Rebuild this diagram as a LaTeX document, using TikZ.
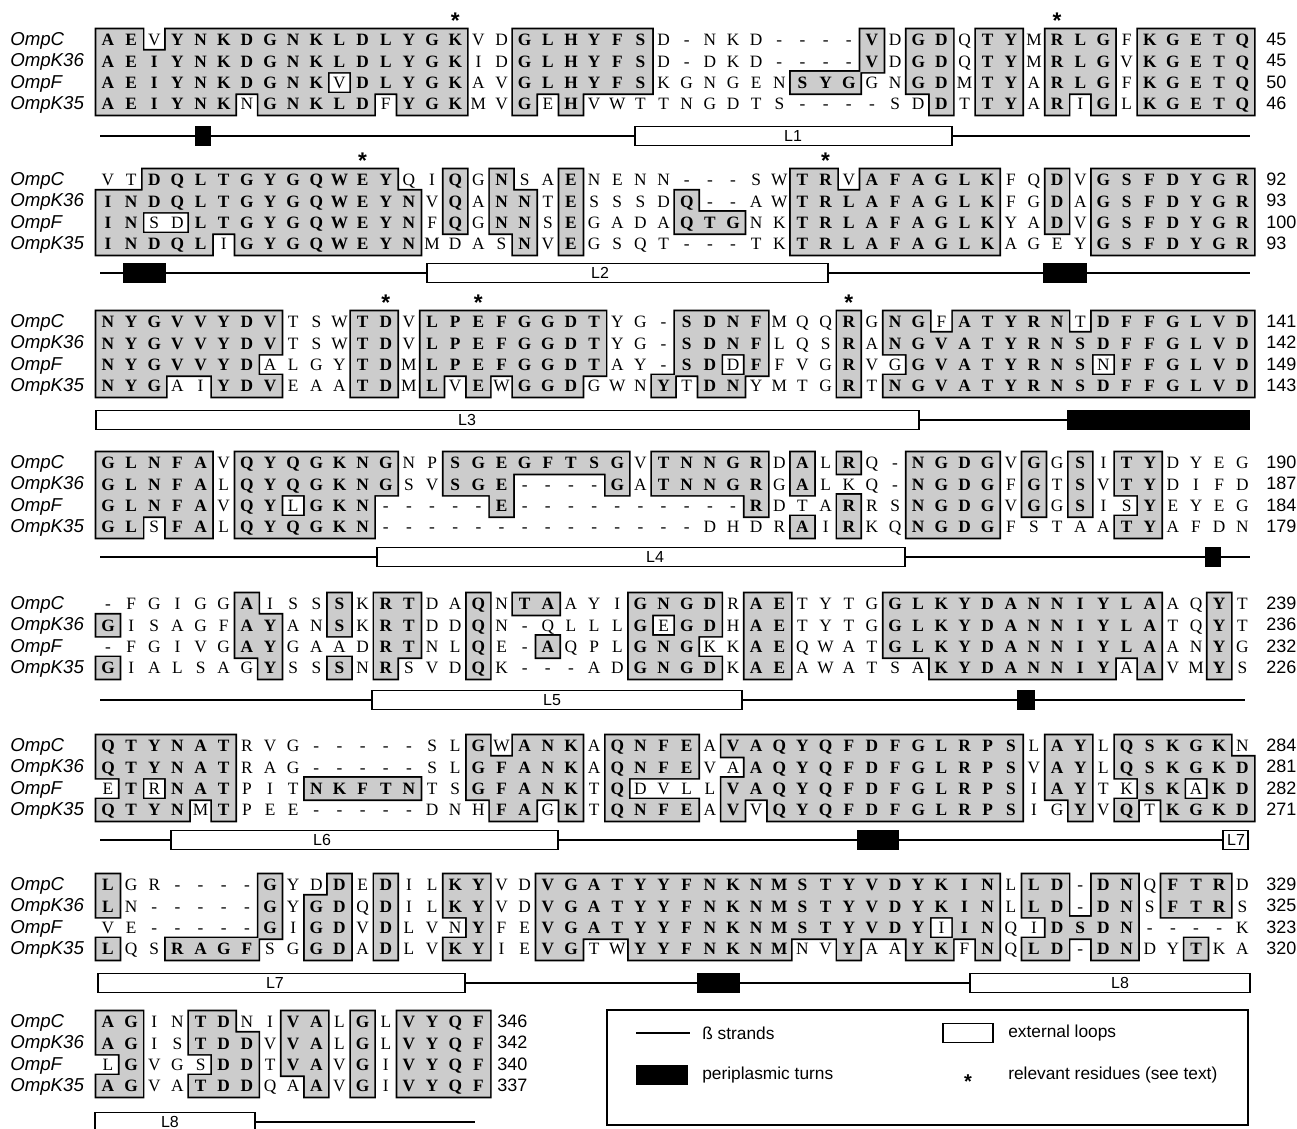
\documentclass[tikz,border=0pt]{standalone}
\usepackage{fontspec}
\setmainfont{Liberation Serif}
\setsansfont{Liberation Sans}
\usetikzlibrary{positioning}
\definecolor{tintgray}{gray}{0.80}
\pgfdeclarelayer{edge}
\pgfdeclarelayer{tint}
\pgfsetlayers{edge,tint,main}

% grid of the alignment (units are pixels of the figure)
\newcounter{rescol}
\newcommand\colzero{108}
\newcommand\colstep{23.15}
\newcommand\halfw{11.6}
\newcommand\halfh{10.7}
\newcommand\edgew{1.7}
\newcommand\numx{1266}
\newcommand\edgepath{}
\newcommand\tintpath{}

% one residue: upper case = shaded, lower case = plain, - = gap
\newcommand\putres[1]{%
  \stepcounter{rescol}%
  \pgfmathsetmacro\resx{\colzero+(\arabic{rescol}-1)*\colstep}%
  \if-#1%
    \node[gapres] (\rowid c\arabic{rescol}) at (\resx,\rowy+5.7) {-};%
  \else
    \ifnum`#1=\lccode`#1\relax
      \node[plainres] (\rowid c\arabic{rescol}) at (\resx,\rowy+5.7) {\uppercase{#1}};%
    \else
      \xdef\edgepath{\edgepath (\resx-\halfw-\edgew,\rowy-\halfh-\edgew) rectangle (\resx+\halfw+\edgew,\rowy+\halfh+\edgew)}%
      \xdef\tintpath{\tintpath (\resx-\halfw,\rowy-\halfh) rectangle (\resx+\halfw,\rowy+\halfh)}%
      \node[boldres] (\rowid c\arabic{rescol}) at (\resx,\rowy+5.7) {#1};%
    \fi
  \fi}
\newcommand\readres[1]{\ifx\relax#1\let\resnext\relax\else\putres{#1}\let\resnext\readres\fi\resnext}
\newcommand\seqrow[5]{%
  \node[seqname] (#1) at (10,#2+5.5) {#3};%
  \setcounter{rescol}{0}%
  \def\rowid{#1}\def\rowy{#2}%
  \readres#4\relax
  \node[seqnum] (#1n) at (\numx,#2+5.5) {#5};}
\newcommand\relstar[3]{\node[starmark] (#1) at ({\colzero+(#2-1)*\colstep},#3-12) {*};}
\newcommand\loopat[6]{%
  \node[loopbar, minimum width={(#3-#2)*0.75pt}] (#1) at ({(#2+#3)/2},#4) {};%
  \node[looplab] (#1t) at (#5,#4) {#6};}
\newcommand\turnat[4]{\node[turnbar, minimum width={(#3-#2)*0.75pt}] (#1) at ({(#2+#3)/2},#4) {};}

\begin{document}
\begin{tikzpicture}[
  x=0.75pt, y=-0.75pt,
  plainres/.style={anchor=base, inner sep=0pt, font=\fontsize{13}{15}\selectfont},
  boldres/.style={plainres, font=\fontsize{13}{15}\selectfont\bfseries},
  gapres/.style={plainres},
  seqname/.style={anchor=base west, inner sep=0pt, font=\sffamily\itshape\fontsize{14}{16}\selectfont},
  seqnum/.style={anchor=base west, inner sep=0pt, font=\sffamily\fontsize{13.5}{16}\selectfont},
  starmark/.style={anchor=base, inner sep=0pt, font=\sffamily\bfseries\fontsize{17}{18}\selectfont},
  strand/.style={line width=1.9pt},
  loopbar/.style={draw, fill=white, line width=0.9pt, minimum height=14.25pt, inner sep=0pt},
  turnbar/.style={fill=black, minimum height=15pt, inner sep=0pt},
  looplab/.style={inner sep=0pt, font=\sffamily\fontsize{12}{14}\selectfont},
  legtext/.style={anchor=west, inner sep=0pt, font=\sffamily\fontsize{13}{15}\selectfont},
  legframe/.style={draw, line width=1pt, inner sep=0pt, minimum width=480.75pt, minimum height=86.25pt}
]
\useasboundingbox (0,0) rectangle (1297,1129);

% block 1
\relstar{st1}{16}{40}
\relstar{st2}{42}{40}
\seqrow{a1}{40}{OmpC}{AEvYNKDGNKLDLYGKvdGLHYFSd-nkd----VdGDqTYmRLGfKGETQ}{45}
\seqrow{a2}{61.3}{OmpK36}{AEIYNKDGNKLDLYGKidGLHYFSd-dkd----VdGDqTYmRLGvKGETQ}{45}
\seqrow{a3}{82.6}{OmpF}{AEIYNKDGNKvDLYGKavGLHYFSkgngenSYGgnGDmTYaRLGfKGETQ}{50}
\seqrow{a4}{103.9}{OmpK35}{AEIYNKnGNKLDfYGKmvGeHvwttngdts----sdDtTYaRiGlKGETQ}{46}
\coordinate (k1a) at (100,136);
\coordinate (k1b) at (1250,136);
\draw[strand] (k1a) -- (k1b);
\turnat{t1}{195}{211}{136}
\loopat{l1}{635}{952}{136}{793}{L1}

% block 2
\relstar{st3}{12}{180}
\relstar{st4}{32}{180}
\seqrow{b1}{180}{OmpC}{vtDQLTGYGQWEYqiQgNsaEnenn---swTRvAFAGLKfqDvGSFDYGR}{92}
\seqrow{b2}{201.3}{OmpK36}{INDQLTGYGQWEYNvQaNNtEsssdQ--awTRLAFAGLKfgDaGSFDYGR}{93}
\seqrow{b3}{222.6}{OmpF}{INsdLTGYGQWEYNfQgNNsEgadaQTGnkTRLAFAGLKyaDvGSFDYGR}{100}
\seqrow{b4}{243.9}{OmpK35}{INDQLiGYGQWEYNmdasNvEgsqt---tkTRLAFAGLKageyGSFDYGR}{93}
\coordinate (k2a) at (100,273);
\coordinate (k2b) at (1250,273);
\draw[strand] (k2a) -- (k2b);
\turnat{t2}{123}{166}{273}
\loopat{l2}{427}{828}{273}{600}{L2}
\turnat{t3}{1043}{1087}{273}

% block 3
\relstar{st5}{13}{322}
\relstar{st6}{17}{322}
\relstar{st7}{33}{322}
\seqrow{c1}{322}{OmpC}{NYGVVYDVtswTDvLPEFGGDTyg-SDNFmqqRgNGfATYRNtDFFGLVD}{141}
\seqrow{c2}{343.3}{OmpK36}{NYGVVYDVtswTDvLPEFGGDTyg-SDNFlqsRaNGVATYRNSDFFGLVD}{142}
\seqrow{c3}{364.6}{OmpF}{NYGVVYDalgyTDmLPEFGGDTay-SDdFfvgRvgGVATYRNSnFFGLVD}{149}
\seqrow{c4}{385.9}{OmpK35}{NYGaiYDVeaaTDmLvEwGGDgwnYtDNymtgRtNGVATYRNSDFFGLVD}{143}
\coordinate (k3a) at (100,420);
\coordinate (k3b) at (1250,420);
\draw[strand] (k3a) -- (k3b);
\loopat{l3}{96}{919}{420}{467}{L3}
\turnat{t4}{1067}{1250}{420}

% block 4
\seqrow{d1}{463}{OmpC}{GLNFAvQYQGKNGnpSGEGFTSGvTNNGRdAlRq-NGDGvGgSiTYdyeg}{190}
\seqrow{d2}{484.3}{OmpK36}{GLNFAlQYQGKNGsvSGE----GaTNNGRgAlkq-NGDGfGtSvTYdifd}{187}
\seqrow{d3}{505.6}{OmpF}{GLNFAvQYlGKN-----E----------RdtaRrsNGDGvGgSisYeyeg}{184}
\seqrow{d4}{526.9}{OmpK35}{GLsFAlQYQGKN--------------dhdrAiRkqNGDGfstaaTYafdn}{179}
\coordinate (k4a) at (100,557);
\coordinate (k4b) at (1250,557);
\draw[strand] (k4a) -- (k4b);
\loopat{l4}{377}{905}{557}{655}{L4}
\turnat{t5}{1205}{1221}{557}

% block 5
\seqrow{e1}{604}{OmpC}{-fgiggAissSkRTdaQnTAayiGNGDrAEtytgGLKYDANNIYLAaqYt}{239}
\seqrow{e2}{625.3}{OmpK36}{GisagfAYanSkRTddQn-qlllGeGDhAEtytgGLKYDANNIYLAtqYt}{236}
\seqrow{e3}{646.6}{OmpF}{-fgivgAYgaadRTnlQe-AqplGNGkkAEqwatGLKYDANNIYLAanYg}{232}
\seqrow{e4}{667.9}{OmpK35}{GialsagYssSnRsvdQk---adGNGDkAEawatsaKYDANNIYaAvmYs}{226}
\coordinate (k5a) at (100,700);
\coordinate (k5b) at (1245,700);
\draw[strand] (k5a) -- (k5b);
\loopat{l5}{372}{742}{700}{552}{L5}
\turnat{t6}{1017}{1035}{700}

% block 6
\seqrow{f1}{746}{OmpC}{QTYNATrvg-----slGwANKaQNFEaVAQYQFDFGLRPSlAYlQSKGKn}{284}
\seqrow{f2}{767.3}{OmpK36}{QTYNATrag-----slGFANKaQNFEvaAQYQFDFGLRPSvAYlQSKGKD}{281}
\seqrow{f3}{788.6}{OmpF}{eTrNATpitNKFTNtsGFANKtQdvllVAQYQFDFGLRPSiAYtkSKaKD}{282}
\seqrow{f4}{809.9}{OmpK35}{QTYNmTpee-----dnhFAgKtQNFEaVvQYQFDFGLRPSigYvQtKGKD}{271}
\coordinate (k6a) at (100,840);
\coordinate (k6b) at (1228,840);
\draw[strand] (k6a) -- (k6b);
\loopat{l6}{171}{558}{840}{322}{L6}
\turnat{t7}{857}{899}{840}
\loopat{l7}{1223}{1248}{840}{1236}{L7}

% block 7
\seqrow{g1}{885}{OmpC}{Lgr----GydDeDilKYvdVGATYYFNKNMSTYVDYKINlLD-DNqFTRd}{329}
\seqrow{g2}{906.3}{OmpK36}{Ln-----GyGDqDilKYvdVGATYYFNKNMSTYVDYKINlLD-DNsFTRs}{325}
\seqrow{g3}{927.6}{OmpF}{ve-----GiGDvDlvnYfeVGATYYFNKNMSTYVDYiINqiDSDN----k}{323}
\seqrow{g4}{948.9}{OmpK35}{LqsRAGFsgGDaDlvKYieVGtwYYFNKNMnvYaaYKfNqLD-DNdyTka}{320}
\coordinate (k7a) at (100,983);
\coordinate (k7b) at (1250,983);
\draw[strand] (k7a) -- (k7b);
\loopat{l8}{98}{465}{983}{275}{L7}
\turnat{t8}{697}{740}{983}
\loopat{l9}{970}{1250}{983}{1120}{L8}

% block 8
\renewcommand\numx{497}
\seqrow{h1}{1022}{OmpC}{AGinTDniVAlGlVYQF}{346}
\seqrow{h2}{1043.3}{OmpK36}{AGisTDDvVAlGlVYQF}{342}
\seqrow{h3}{1064.6}{OmpF}{lGvgsDDtVAvGiVYQF}{340}
\seqrow{h4}{1085.9}{OmpK35}{AGvaTDDqaAvGiVYQF}{337}
\coordinate (k8a) at (100,1122);
\coordinate (k8b) at (475,1122);
\draw[strand] (k8a) -- (k8b);
\loopat{l10}{95}{255}{1122}{170}{L8}

% shaded runs, outline first
\begin{pgfonlayer}{edge}
\fill \edgepath;
\end{pgfonlayer}
\begin{pgfonlayer}{tint}
\fill[tintgray] \tintpath;
\end{pgfonlayer}

% key
\node[legframe] (key) at (927.5,1067.5) {};
\coordinate (kya) at (636,1033);
\coordinate (kyb) at (690,1033);
\draw[strand] (kya) -- (kyb);
\node[legtext] (kyat) at (702,1033) {ß strands};
\node[loopbar, minimum width=37.5pt] (kyloop) at (968,1033) {};
\node[legtext] (kyloopt) at (1008,1033) {external loops};
\node[turnbar, minimum width=39pt] (kyturn) at (662,1075) {};
\node[legtext] (kyturnt) at (702,1075) {periplasmic turns};
\node[starmark, font=\sffamily\bfseries\fontsize{15}{16}\selectfont] (kystar) at (968,1088) {*};
\node[legtext] (kystart) at (1008,1075) {relevant residues (see text)};
\end{tikzpicture}
\end{document}
